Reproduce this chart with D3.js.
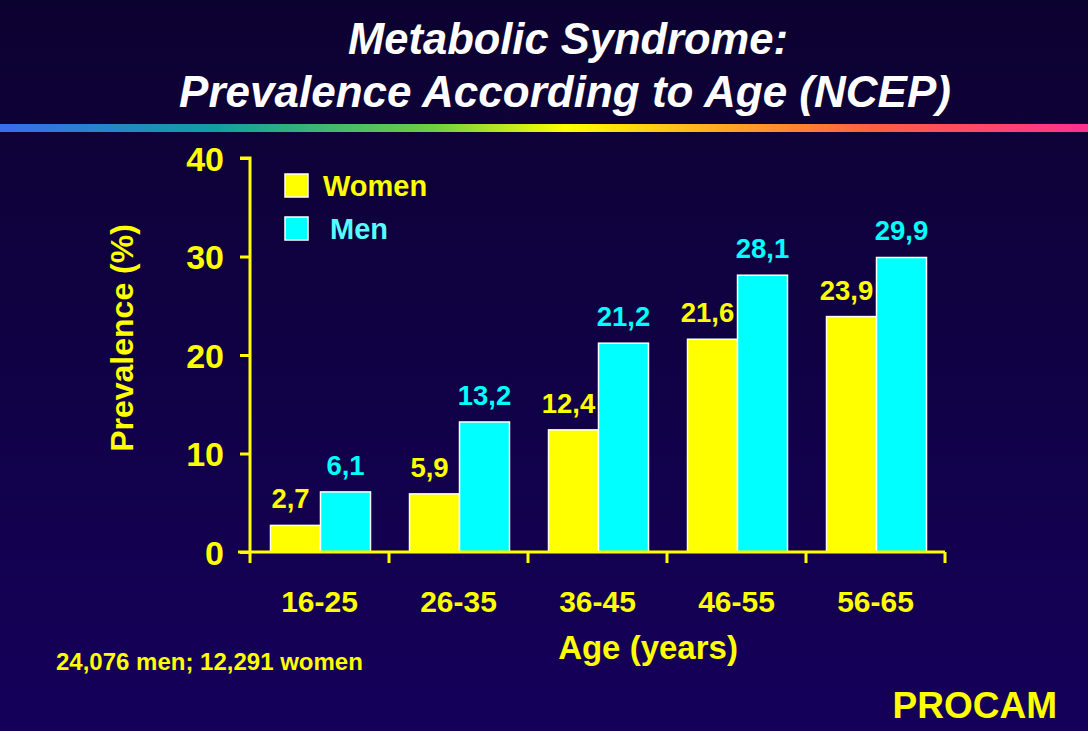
<!DOCTYPE html>
<html><head><meta charset="utf-8">
<script src="https://cdn.jsdelivr.net/npm/d3@7"></script>
<style>html,body{margin:0;padding:0;background:#0d0330;}svg{display:block;}</style>
</head><body>
<script>
const categories = ["16-25","26-35","36-45","46-55","56-65"];
const women = [2.7, 5.9, 12.4, 21.6, 23.9];
const men = [6.1, 13.2, 21.2, 28.1, 29.9];
const seriesNames = ["Women","Men"];
const yTicks = [0,10,20,30,40];
const labelFmt = v => String(v.toFixed(1)).replace(".", ",");

const W = 1088, H = 731;
const svg = d3.select("body").append("svg").attr("width", W).attr("height", H);
const defs = svg.append("defs");
const bg = defs.append("linearGradient").attr("id","bg").attr("x1",0).attr("y1",0).attr("x2",0).attr("y2",1);
bg.append("stop").attr("offset","0%").attr("stop-color","#0c0230");
bg.append("stop").attr("offset","100%").attr("stop-color","#15005a");
svg.append("rect").attr("width",W).attr("height",H).attr("fill","url(#bg)");

const rb = defs.append("linearGradient").attr("id","rb").attr("x1",0).attr("y1",0).attr("x2",1).attr("y2",0);
[["0%","#3a6cf0"],["20%","#10a0a0"],["40%","#70d040"],["52%","#ffff00"],["65%","#ffb020"],["80%","#ff6040"],["100%","#ff3090"]]
  .forEach(([o,c]) => rb.append("stop").attr("offset",o).attr("stop-color",c));
svg.append("rect").attr("x",0).attr("y",124).attr("width",W).attr("height",8).attr("fill","url(#rb)");

const font = "'Liberation Sans', Arial, sans-serif";
svg.append("text").attr("x",568).attr("y",54).attr("text-anchor","middle")
  .attr("font-family",font).attr("font-weight","bold").attr("font-style","italic")
  .attr("font-size",43.5).attr("fill","#ffffff").text("Metabolic Syndrome:");
svg.append("text").attr("x",565).attr("y",107).attr("text-anchor","middle")
  .attr("font-family",font).attr("font-weight","bold").attr("font-style","italic")
  .attr("font-size",44).attr("fill","#ffffff").text("Prevalence According to Age (NCEP)");

const x0 = 250, x1 = 945, yTop = 158, yBot = 552;
const x = d3.scaleBand().domain(categories).range([x0, x1]).paddingInner(0).paddingOuter(0);
const xs = d3.scaleBand().domain(seriesNames).range([20.5, 120.5]).padding(0);
const y = d3.scaleLinear().domain([0,40]).range([yBot, yTop]);

const yellow = "#ffff00", cyan = "#00ffff";
const colors = {Women: yellow, Men: cyan};
const labelShift = {Women: -5, Men: 0};
const data = categories.map((c,i) => ({cat:c, vals:[{s:"Women", v:women[i]},{s:"Men", v:men[i]}]}));

const g = svg.append("g");
const grp = g.selectAll("g.grp").data(data).join("g").attr("class","grp")
  .attr("transform", d => `translate(${x(d.cat)},0)`);
grp.selectAll("rect").data(d => d.vals).join("rect")
  .attr("x", d => xs(d.s)).attr("width", xs.bandwidth())
  .attr("y", d => y(d.v)).attr("height", d => y(0) - y(d.v))
  .attr("fill", d => colors[d.s]).attr("stroke","#ffffff").attr("stroke-width",1.5);
grp.selectAll("text").data(d => d.vals).join("text")
  .attr("x", d => xs(d.s) + xs.bandwidth()/2 + labelShift[d.s]).attr("y", d => y(d.v) - 17)
  .attr("text-anchor","middle").attr("font-family",font).attr("font-weight","bold")
  .attr("font-size",27.5).attr("fill", d => colors[d.s]).text(d => labelFmt(d.v));

// Y axis
const yAxis = d3.axisLeft(y).tickValues(yTicks).tickSize(10).tickPadding(16).tickFormat(d3.format("d"));
const ya = svg.append("g").attr("transform",`translate(${x0},0)`).call(yAxis);
ya.select(".domain").attr("stroke",yellow).attr("stroke-width",3).attr("d",`M-10,${yTop}H0V${yBot}`);
ya.selectAll(".tick line").attr("stroke",yellow).attr("stroke-width",3);
ya.selectAll(".tick text").attr("fill",yellow).attr("font-family",font).attr("font-weight","bold").attr("font-size",34).attr("dy","0.36em");

// X axis
const xBoundaries = d3.scaleLinear().domain([0,categories.length]).range([x0,x1]);
const xa = svg.append("g").attr("transform",`translate(0,${yBot})`);
xa.append("line").attr("x1",x0-12).attr("x2",x1).attr("y1",0).attr("y2",0).attr("stroke",yellow).attr("stroke-width",3);
xa.selectAll("line.tk").data(d3.range(categories.length+1)).join("line").attr("class","tk")
  .attr("x1", d => xBoundaries(d)).attr("x2", d => xBoundaries(d)).attr("y1",0).attr("y2",11)
  .attr("stroke",yellow).attr("stroke-width",3);
const xAxis = d3.axisBottom(x).tickSize(0).tickPadding(0);
const xg = svg.append("g").attr("transform",`translate(0,${yBot})`).call(xAxis);
xg.select(".domain").remove();
xg.selectAll(".tick text").attr("fill",yellow).attr("font-family",font).attr("font-weight","bold")
  .attr("font-size",30).attr("y",60).attr("dy",0);

// Axis titles
svg.append("text").attr("transform","translate(133,338) rotate(-90)").attr("text-anchor","middle")
  .attr("font-family",font).attr("font-weight","bold").attr("font-size",32).attr("fill",yellow).text("Prevalence (%)");
svg.append("text").attr("x",648).attr("y",659).attr("text-anchor","middle")
  .attr("font-family",font).attr("font-weight","bold").attr("font-size",33).attr("fill",yellow).text("Age (years)");

// Legend
const leg = svg.append("g");
seriesNames.forEach((s,i) => {
  leg.append("rect").attr("x",285).attr("y",174 + i*43).attr("width",23).attr("height",23)
    .attr("fill",colors[s]).attr("stroke","#ffffff").attr("stroke-width",1.5);
  leg.append("text").attr("x", i===0 ? 323 : 330).attr("y",196 + i*43)
    .attr("font-family",font).attr("font-weight","bold").attr("font-size",29)
    .attr("fill", i===0 ? yellow : "#55ffff").text(s);
});

svg.append("text").attr("x",56).attr("y",670).attr("font-family",font).attr("font-weight","bold")
  .attr("font-size",24).attr("fill",yellow).text("24,076 men; 12,291 women");
svg.append("text").attr("x",1057).attr("y",718).attr("text-anchor","end").attr("font-family",font).attr("font-weight","bold")
  .attr("font-size",37).attr("fill",yellow).text("PROCAM");
</script>
</body></html>
